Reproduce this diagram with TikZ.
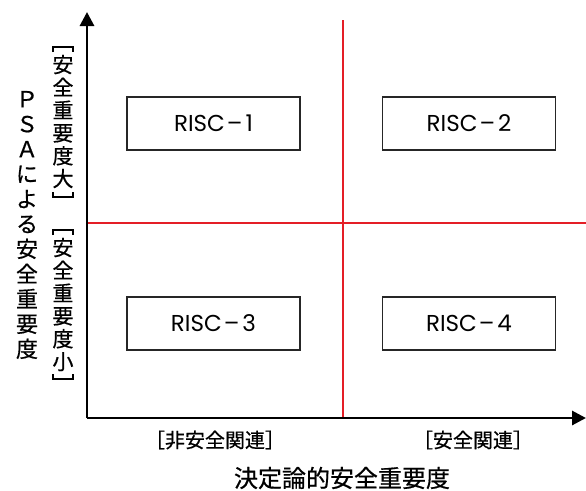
\documentclass[tikz,border=0pt]{standalone}
\usepackage{fontspec}
\setmainfont[FakeBold=0.6]{Noto Sans CJK JP}
\newfontfamily\latinsf{Poppins}
\usetikzlibrary{arrows.meta}
\definecolor{divred}{RGB}{228,30,38}
\tikzset{
  axis/.style={line width=2.9pt, -{Triangle[length=14pt,width=14pt]}},
  divider/.style={draw=divred, line width=2.5pt},
  riscbox/.style={draw=black!85, line width=1.1pt, minimum width=173pt, minimum height=53pt, inner sep=0pt, font=\latinsf\fontsize{23}{26}\selectfont},
  cat/.style={font=\fontsize{20}{24}\selectfont, inner sep=0pt},
  vlab/.style={font=\fontsize{21}{22.8}\selectfont, align=center, inner sep=0pt},
  ptitle/.style={font=\fontsize{24}{28}\selectfont, inner sep=0pt},
  brk/.style={line width=1.2pt},
}
\begin{document}
\begin{tikzpicture}[x=1pt,y=-1pt]
\useasboundingbox (0,0) rectangle (586,490);
\coordinate (O) at (87,418);
\coordinate (ytip) at (87,12);
\coordinate (xtip) at (586,418);
\coordinate (vtop) at (343,20);
\coordinate (vbot) at (343,418);
\coordinate (hl) at (87,223);
\coordinate (hr) at (586,223);
\draw[divider] (vtop) -- (vbot);
\draw[divider] (hl) -- (hr);
\draw[axis] (O) -- (ytip);
\draw[axis] (O) -- (xtip);
\node[riscbox] (r1) at (213.5,123.5) {RISC\kern2pt–\kern3pt1};
\node[riscbox] (r2) at (469,123.5) {RISC\kern2pt–\kern3pt2};
\node[riscbox] (r3) at (213.5,323.5) {RISC\kern2pt–\kern3pt3};
\node[riscbox] (r4) at (469,323.5) {RISC\kern2pt–\kern3pt4};
\node[cat] (c1) at (215,440) {［非安全関連］};
\node[cat] (c2) at (473,440) {［安全関連］};
\node[ptitle] (xt) at (342,478) {決定論的安全重要度};
\node[vlab] (hi) at (63,121.5) {安\\全\\重\\要\\度\\大};
\node[vlab] (lo) at (63,304.5) {安\\全\\重\\要\\度\\小};
\draw[brk] (53,52) -- (53,47) -- (73,47) -- (73,52);
\draw[brk] (53,192) -- (53,197) -- (73,197) -- (73,192);
\draw[brk] (53,235) -- (53,230) -- (73,230) -- (73,235);
\draw[brk] (53,374) -- (53,379) -- (73,379) -- (73,374);
\node[font=\fontsize{22}{25}\selectfont, align=center, inner sep=0pt] (yt) at (27,225) {Ｐ\\Ｓ\\Ａ\\に\\よ\\る\\安\\全\\重\\要\\度};
\end{tikzpicture}
\end{document}
